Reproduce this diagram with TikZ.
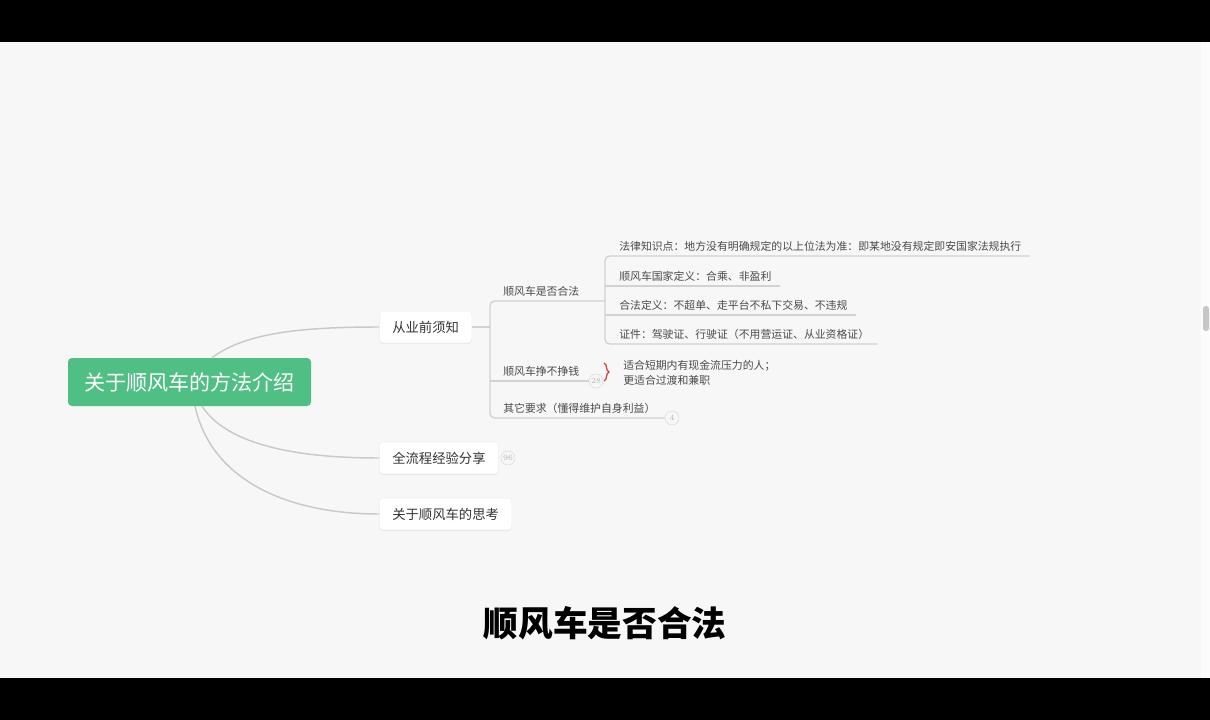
\documentclass[tikz,border=0pt]{standalone}
\usepackage{fontspec}
\newfontfamily\cjk{Noto Sans CJK SC}
\usetikzlibrary{shadows,decorations.pathreplacing,calc}
\definecolor{bgc}{HTML}{F7F7F7}
\definecolor{rootg}{HTML}{4FBF84}
\definecolor{lnc}{HTML}{D2D2D2}
\definecolor{curvec}{HTML}{C9C9C9}
\definecolor{txt}{HTML}{333333}
\definecolor{txt2}{HTML}{4A4A4A}
\definecolor{cntc}{HTML}{B8B8B8}
\definecolor{bracec}{HTML}{D23C32}
\begin{document}
\begin{tikzpicture}[x=0.75pt,y=-0.75pt,
  rootbox/.style={fill=rootg, rounded corners=3pt, text=white, inner sep=0pt,
    minimum width=182.25pt, minimum height=36pt, font=\cjk\fontsize{15.8pt}{18pt}\selectfont},
  topicbox/.style={fill=white, draw=black!6, rounded corners=3pt, text=txt, inner xsep=9.75pt,
    inner ysep=0pt, minimum height=24pt, anchor=west, font=\cjk\fontsize{10pt}{12pt}\selectfont,
    drop shadow={shadow xshift=0pt, shadow yshift=-0.8pt, opacity=0.07, fill=black}},
  leaf/.style={anchor=south west, inner xsep=6pt, inner ysep=4pt, text height=6pt, text depth=0pt,
    text=txt2, font=\cjk\fontsize{8.15pt}{10pt}\selectfont},
  ln/.style={draw=lnc, line width=1pt, rounded corners=3.5pt},
  curve/.style={draw=curvec, line width=1.1pt},
  cnt/.style={circle, draw=black!15, fill=bgc, text=cntc, inner sep=0pt, minimum size=10.5pt,
    font=\fontsize{6pt}{7pt}\selectfont}
]
\useasboundingbox (0,0) rectangle (1210,720);
% background
\fill[black] (0,0) rectangle (1210,720);
\fill[bgc] (0,42) rectangle (1210,678);
\fill[white!60!bgc] (1201,42) rectangle (1210,678);
\fill[black!22, rounded corners=2pt] (1203,306) rectangle (1209,331);

% root and topics
\node[rootbox] (root) at (189.5,382) {关于顺风车的方法介绍};
\node[topicbox] (n1) at (379,327) {从业前须知};
\node[topicbox] (n2) at (379,458) {全流程经验分享};
\node[topicbox] (n3) at (379,514) {关于顺风车的思考};
\node[cnt] (c96) at (508,458) {96};

\draw[curve] ($(root.north)+(22.5,0)$) .. controls (245,333) and (300,327) .. (n1.west);
\draw[curve] ($(root.south)+(12.5,0)$) .. controls (228,446) and (300,458) .. (n2.west);
\draw[curve] ($(root.south)+(5.5,0)$) .. controls (212,482) and (290,514) .. (n3.west);

% level 2
\node[leaf] (s1) at (495,301) {顺风车是否合法};
\node[leaf] (s2) at (495,381) {顺风车挣不挣钱};
\node[leaf] (s3) at (495,418) {其它要求（懂得维护自身利益）};
\node[cnt] (c28) at (596,381) {28};
\node[cnt] (c4) at (672,418) {4};

\coordinate (j1) at (490,327);
\coordinate (v2top) at (490,301);
\coordinate (v2bot) at (490,418);
\coordinate (j2) at (490,381);
\coordinate (v3s) at (605,301);

\draw[ln] (n1.east) -- (j1);
\draw[ln] (v3s) -- (v2top) -- (v2bot) -- (c4.west);
\draw[ln] (j2) -- (c28.west);

% level 3
\node[leaf] (t1) at (611,256) {法律知识点：地方没有明确规定的以上位法为准：即某地没有规定即安国家法规执行};
\node[leaf] (t2) at (611,286) {顺风车国家定义：合乘、非盈利};
\node[leaf] (t3) at (611,315) {合法定义：不超单、走平台不私下交易、不违规};
\node[leaf] (t4) at (611,344) {证件：驾驶证、行驶证（不用营运证、从业资格证）};

\coordinate (v3top) at (605,256);
\coordinate (v3bot) at (605,344);
\coordinate (v3b) at (605,286);
\coordinate (v3c) at (605,315);
\draw[ln] (t1.south east) -- (v3top) -- (v3bot) -- (t4.south east);
\draw[ln] (v3b) -- (t2.south east);
\draw[ln] (v3c) -- (t3.south east);

% brace and note
\coordinate (br1) at (604,363);
\coordinate (br2) at (604,381);
\draw[bracec, line width=0.9pt, decorate, decoration={brace, amplitude=3.8pt}] (br1) -- (br2);
\node[anchor=west, align=left, inner xsep=0pt, text=txt2, font=\cjk\fontsize{8.15pt}{11.3pt}\selectfont]
  (note) at (623,373) {适合短期内有现金流压力的人；\\更适合过渡和兼职};

% subtitle
\node[font=\cjk\bfseries\fontsize{26pt}{30pt}\selectfont, text=black] (sub) at (605,623) {顺风车是否合法};
\end{tikzpicture}
\end{document}
